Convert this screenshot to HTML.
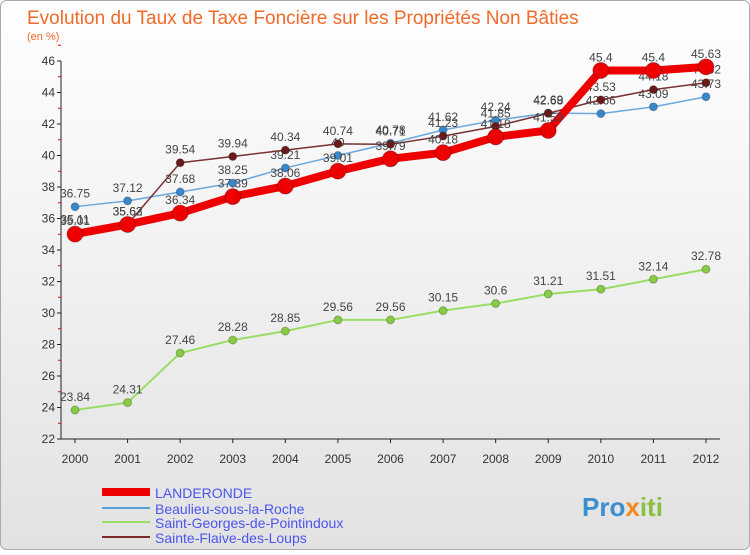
<!DOCTYPE html>
<html><head><meta charset="utf-8"><style>
body{margin:0;width:750px;height:550px;overflow:hidden;font-family:"Liberation Sans",sans-serif}
</style></head><body>
<svg width="750" height="550" xmlns="http://www.w3.org/2000/svg">
<defs><linearGradient id="bg" x1="0" y1="0" x2="0" y2="1"><stop offset="0" stop-color="#ffffff"/><stop offset="1" stop-color="#e2e2e2"/></linearGradient></defs>
<rect x="0.5" y="0.5" width="749" height="549" rx="6" fill="url(#bg)" stroke="#aaa"/>
<text x="27" y="24" font-size="19" fill="#f06a2a">Evolution du Taux de Taxe Foncière sur les Propriétés Non Bâties</text>
<text x="27" y="40" font-size="11" fill="#f06a2a">(en %)</text>
<g id="axes"></g><g id="series"></g>
<g>
<line x1="102" y1="492" x2="150" y2="492" stroke="#ee0000" stroke-width="8"/>
<text x="155" y="498" font-size="14" fill="#4a55ee">LANDERONDE</text>
<line x1="102" y1="508" x2="150" y2="508" stroke="#5a9fd6" stroke-width="2"/>
<text x="155" y="514" font-size="14" fill="#4a55ee">Beaulieu-sous-la-Roche</text>
<line x1="102" y1="522" x2="150" y2="522" stroke="#99dd66" stroke-width="2"/>
<text x="155" y="528" font-size="14" fill="#4a55ee">Saint-Georges-de-Pointindoux</text>
<line x1="102" y1="537" x2="150" y2="537" stroke="#7a2a2a" stroke-width="2"/>
<text x="155" y="543" font-size="14" fill="#4a55ee">Sainte-Flaive-des-Loups</text>
</g>
<text x="582" y="516" font-size="26" font-weight="bold" fill="#3a8fd0">Pro<tspan fill="#f08a20">x</tspan><tspan fill="#88c040">iti</tspan></text>
</svg>
<script>
const years=[2000,2001,2002,2003,2004,2005,2006,2007,2008,2009,2010,2011,2012];
const yTicks=[22,24,26,28,30,32,34,36,38,40,42,44,46];
const landeronde=[35.01,35.62,36.34,37.39,38.06,39.01,39.79,40.18,41.18,41.59,45.4,45.4,45.63];
const beaulieu=[36.75,37.12,37.68,38.25,39.21,40,40.78,41.62,42.24,42.69,42.66,43.09,43.73];
const saintGeorges=[23.84,24.31,27.46,28.28,28.85,29.56,29.56,30.15,30.6,31.21,31.51,32.14,32.78];
const sainteFlaive=[35.11,35.63,39.54,39.94,40.34,40.74,40.71,41.23,41.85,42.68,43.53,44.18,44.62];
const NS="http://www.w3.org/2000/svg";
const xS=i=>75+i*(706-75)/12;
const yS=v=>439-(v-22)*(439-61)/24;
function mk(t,a,p){const e=document.createElementNS(NS,t);for(const k in a)e.setAttribute(k,a[k]);p.appendChild(e);return e;}
const ax=document.getElementById('axes');
let a=mk('line',{x1:61,y1:yS(22),x2:61,y2:yS(46),stroke:'#222'},ax);


a=mk('line',{x1:61,y1:yS(22),x2:720,y2:yS(22),stroke:'#222'},ax);


yTicks.forEach(v=>{
 mk('line',{x1:57,x2:61,y1:yS(v),y2:yS(v),stroke:'#222'},ax);
 mk('line',{x1:58,x2:61,y1:yS(v+1),y2:yS(v+1),stroke:'#e00'},ax);
 const t=mk('text',{x:55,y:yS(v)+4,'font-size':12,'text-anchor':'end',fill:'#333'},ax);t.textContent=v;
 
 
});
years.forEach((y,i)=>{
 mk('line',{x1:xS(i),x2:xS(i),y1:439,y2:443,stroke:'#222'},ax);
 const t=mk('text',{x:xS(i),y:463,'font-size':12,'text-anchor':'middle',fill:'#333'},ax);t.textContent=y;
 
 
});
const sg=document.getElementById('series');
function draw(vals,name,color,w,r,dot){
 const g=mk('g',{},sg);
 
 
 const p=mk('polyline',{points:vals.map((v,i)=>xS(i)+','+yS(v)).join(' '),fill:'none',stroke:color,'stroke-width':w,'stroke-linejoin':'round'},g);
 
 
 vals.forEach((v,i)=>{
  const c=mk('circle',{cx:xS(i),cy:yS(v),r:r,fill:dot,stroke:'rgba(0,0,0,0.25)'},g);
  
  
  const t=mk('text',{x:xS(i),y:yS(v)-9,'font-size':12,'text-anchor':'middle',fill:'#444'},g);t.textContent=v;
  
  
 });
}
draw(saintGeorges,'saint-georges','#99dd66',2,4,'#88cc44');
draw(beaulieu,'beaulieu','#6aa8dd',1.5,4,'#3a88cc');
draw(sainteFlaive,'sainte-flaive','#7a3030',1.5,4,'#6a1a1a');
draw(landeronde,'landeronde','#ee0000',8,8,'#ee0000');
</script>
</body></html>
